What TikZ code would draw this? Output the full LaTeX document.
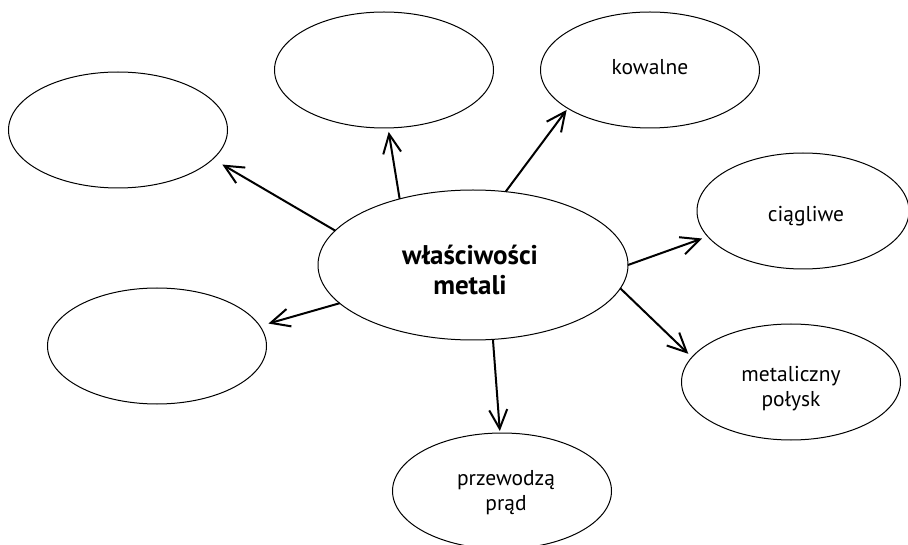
\documentclass[tikz,border=0pt]{standalone}
\usepackage{fontspec}
\setmainfont{PT Sans}
\usetikzlibrary{arrows.meta,shapes.geometric}

\begin{document}
\begin{tikzpicture}[x=1pt,y=-1pt,
  bubble/.style={ellipse, draw, line width=1pt, inner sep=0pt, outer sep=0pt,
    minimum width=219pt, minimum height=116pt},
  hub/.style={bubble, minimum width=310pt, minimum height=150pt},
  tag/.style={align=center, inner sep=0pt, font=\fontsize{21.5}{25}\selectfont},
  hubtag/.style={align=center, inner sep=0pt, font=\fontsize{27}{30}\selectfont\bfseries},
  link/.style={line width=2pt, -{Straight Barb[length=19pt,width=18pt]}}
]
\useasboundingbox (0,0) rectangle (908,545);

% central topic
\node[hub, label={[hubtag, xshift=-3pt, yshift=-5pt]center:właściwości\\metali}] (c) at (473,265) {};

% surrounding properties
\node[bubble] (t1) at (118,130) {};
\node[bubble] (t2) at (384,70) {};
\node[bubble, label={[tag, yshift=3pt]center:kowalne}] (kow) at (650,70) {};
\node[bubble, minimum width=212pt, label={[tag, xshift=3pt, yshift=-5pt]center:ciągliwe}] (cia) at (803,211) {};
\node[bubble, label={[tag, yshift=-7pt]center:metaliczny\\połysk}] (met) at (791,382) {};
\node[bubble, label={[tag, xshift=4pt, yshift=-2pt]center:przewodzą\\prąd}] (prz) at (502,491) {};
\node[bubble] (bl) at (157,346) {};

% arrows from the centre outwards
\draw[link, shorten >=11pt] (c.166.7) -- (t1.-17.4);
\draw[link, shorten >=4pt] (c.138.3) -- (t2.-86.3);
\draw[link, shorten >=2pt] (c.66.3) -- (kow.205.7);
\draw[link, shorten >=6pt] (c.0.7) -- (cia.195.6);
\draw[link, shorten >=5pt] (c.-9.7) -- (met.166.5);
\draw[link, shorten >=2pt] (c.-75.6) -- (prz.92.9);
\draw[link, shorten >=9pt] (c.196.3) -- (bl.11.7);
\end{tikzpicture}
\end{document}
